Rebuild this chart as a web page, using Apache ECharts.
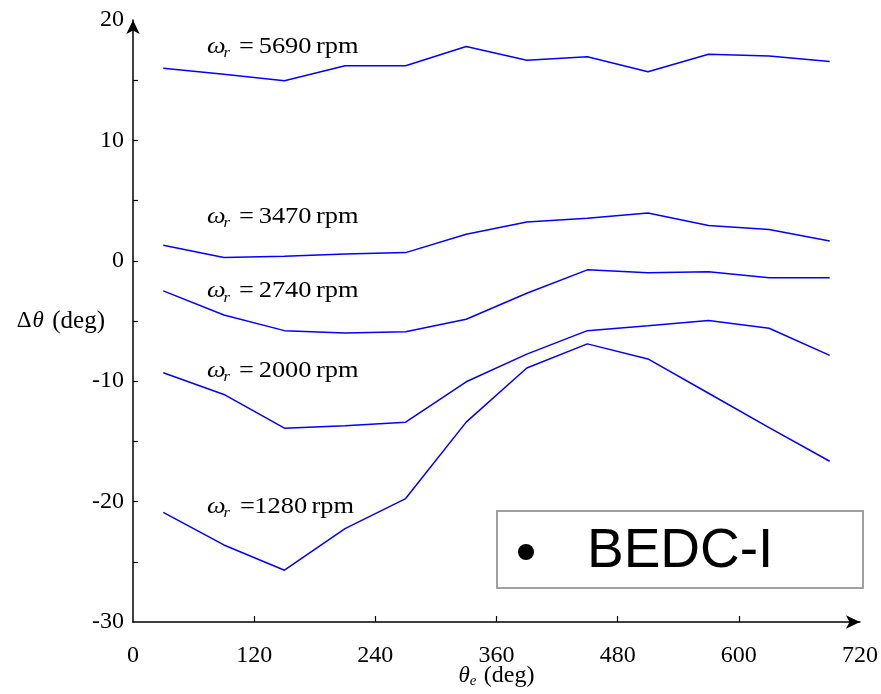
<!DOCTYPE html>
<html><head><meta charset="utf-8">
<script src="https://cdn.jsdelivr.net/npm/echarts@6/dist/echarts.min.js"></script>
<style>html,body{margin:0;padding:0;background:#fff}#c{width:881px;height:694px}</style>
</head><body><div id="c"></div>
<script>
// electrical angle (deg)
const thetaE = [30, 90, 150, 210, 270, 330, 390, 450, 510, 570, 630, 690];
// angle error (deg) per rotor speed
const d5690 = [16.0, 15.5, 14.95, 16.2, 16.2, 17.8, 16.65, 16.95, 15.7, 17.15, 17.0, 16.55];
const d3470 = [1.3, 0.27, 0.38, 0.57, 0.68, 2.2, 3.23, 3.53, 3.97, 2.93, 2.6, 1.64];
const d2740 = [-2.5, -4.5, -5.8, -6.0, -5.9, -4.85, -2.7, -0.75, -1.0, -0.9, -1.4, -1.4];
const d2000 = [-9.3, -11.1, -13.9, -13.7, -13.4, -10.05, -7.75, -5.8, -5.4, -4.95, -5.6, -7.85];
const d1280 = [-20.9, -23.6, -25.7, -22.25, -19.75, -13.4, -8.9, -6.9, -8.15, -11.0, -13.85, -16.65];
const speeds = ['5690', '3470', '2740', '2000', '1280'];
const xTicks = [0, 120, 240, 360, 480, 600, 720];
const yTicks = [-30, -20, -10, 0, 10, 20];
const yTickMarks = [-25, -20, -15, -10, -5, 0, 5, 10, 15];
const legendText = 'BEDC-I';

const allData = [d5690, d3470, d2740, d2000, d1280];
const serif = '"Liberation Serif", "Times New Roman", serif';

const chart = echarts.init(document.getElementById('c'), null, {renderer: 'canvas'});

const series = allData.map((d, k) => ({
  name: speeds[k] + ' rpm',
  type: 'line',
  data: thetaE.map((x, i) => [x, d[i]]),
  symbol: 'none',
  lineStyle: {color: '#0000ff', width: 1.5},
  silent: true,
  animation: false
}));

// curve annotation placement (pixels: left x, vertical centre)
const labelPlace = [[207, 46.5], [207, 216.5], [207, 291], [207, 370.5], [207, 506.5]];
function speedLabel(k) {
  const p = labelPlace[k];
  const eqX = k === 4 ? 30 : 29;
  const numX = k === 4 ? 43 : 47;
  const f = '24px ' + serif;
  return {
    type: 'group', x: p[0], y: p[1], scaleX: 1.1, silent: true,
    children: [
      {type: 'text', x: 0, y: 0, style: {text: 'ω', font: 'italic ' + f, fill: '#000', verticalAlign: 'middle'}},
      {type: 'text', x: 15, y: 7, style: {text: 'r', font: 'italic 15px ' + serif, fill: '#000', verticalAlign: 'middle'}},
      {type: 'text', x: eqX, y: 0, style: {text: '=', font: f, fill: '#000', verticalAlign: 'middle'}},
      {type: 'text', x: numX, y: 0, style: {text: speeds[k], font: f, fill: '#000', verticalAlign: 'middle'}},
      {type: 'text', x: numX + 52, y: 0, style: {text: 'rpm', font: f, fill: '#000', verticalAlign: 'middle'}}
    ]
  };
}

const graphics = speeds.map((s, k) => speedLabel(k));
graphics.push(
  {type: 'rect', shape: {x: 497, y: 511, width: 366, height: 77}, style: {fill: '#fff', stroke: '#a0a0a0', lineWidth: 2}, z: 10},
  {type: 'circle', shape: {cx: 526, cy: 552, r: 8}, style: {fill: '#000'}, z: 11},
  {type: 'text', x: 587, y: 552, style: {text: legendText, font: '55px "Liberation Sans", Arial, sans-serif', fill: '#000', verticalAlign: 'middle'}, z: 11}
);

const option = {
  animation: false,
  backgroundColor: '#fff',
  grid: {left: 133, right: 19, top: 20, bottom: 66, containLabel: false},
  xAxis: {
    type: 'value', min: xTicks[0], max: xTicks[xTicks.length - 1], interval: 120,
    axisLine: {show: true, onZero: false, lineStyle: {color: '#000', width: 1.5}, symbol: ['none', 'arrow'], symbolSize: [10, 14], symbolOffset: [0, 0]},
    axisTick: {show: true, inside: true, length: 6, lineStyle: {color: '#000', width: 1.2}, customValues: xTicks.slice(1, -1)},
    axisLabel: {fontSize: 24, fontFamily: serif, color: '#000', margin: 22},
    splitLine: {show: false},
    name: '{t|θ}{s|e} {p|(deg)}',
    nameLocation: 'middle', nameGap: 40, nameMoveOverlap: false,
    nameTextStyle: {
      color: '#000',
      rich: {
        t: {fontFamily: serif, fontStyle: 'italic', fontSize: 23, color: '#000'},
        s: {fontFamily: serif, fontStyle: 'italic', fontSize: 15, color: '#000', padding: [12, 4, 0, 0]},
        p: {fontFamily: serif, fontSize: 24, color: '#000'}
      }
    }
  },
  yAxis: {
    type: 'value', min: yTicks[0], max: yTicks[yTicks.length - 1], interval: 5,
    axisLine: {show: true, onZero: false, lineStyle: {color: '#000', width: 1.5}, symbol: ['none', 'arrow'], symbolSize: [10, 14], symbolOffset: [0, 0]},
    axisTick: {show: true, inside: true, length: 5, lineStyle: {color: '#000', width: 1.2}, customValues: yTickMarks},
    axisLabel: {
      fontSize: 24, fontFamily: serif, color: '#000', margin: 9,
      formatter: v => (yTicks.indexOf(v) >= 0 ? String(v) : '')
    },
    splitLine: {show: false},
    name: '{d|Δ}{t|θ} {p|(deg)}',
    nameLocation: 'middle', nameRotate: 0, nameGap: 28, nameMoveOverlap: false,
    nameTextStyle: {
      color: '#000',
      rich: {
        d: {fontFamily: serif, fontSize: 23, color: '#000'},
        t: {fontFamily: serif, fontStyle: 'italic', fontSize: 23, color: '#000', padding: [0, 5, 0, 1]},
        p: {fontFamily: serif, fontSize: 25, color: '#000'}
      }
    }
  },
  series: series,
  graphic: graphics
};
chart.setOption(option);
</script>
</body></html>
